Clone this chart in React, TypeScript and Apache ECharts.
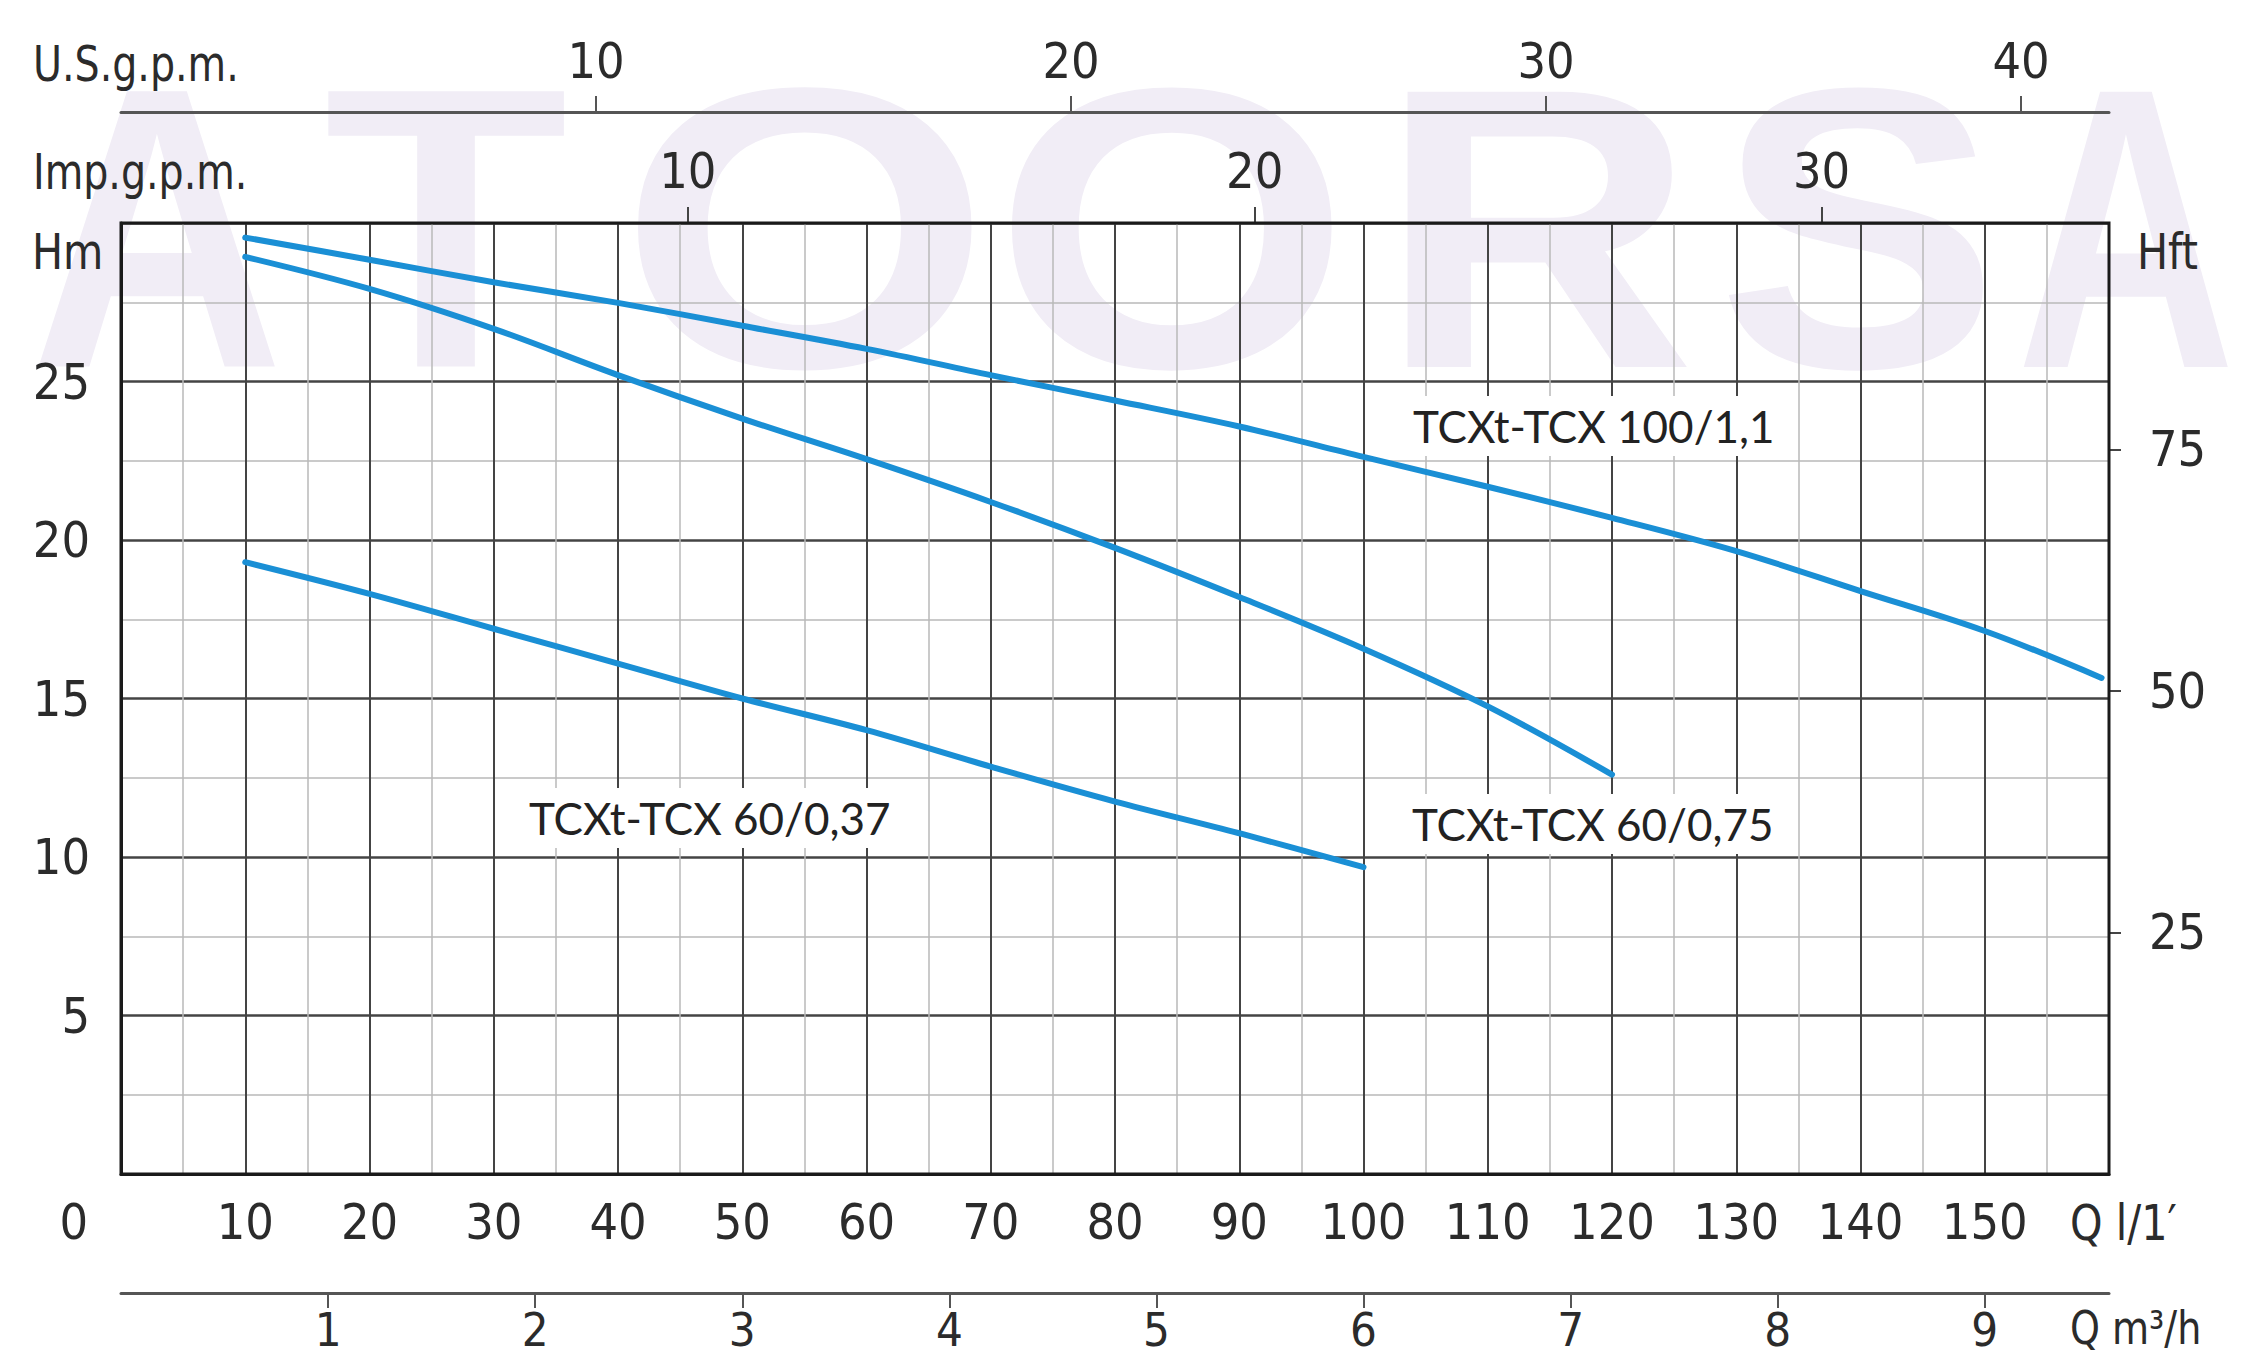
import React, { useEffect, useRef } from "react";
import * as echarts from "echarts";

// ---- data ----
const flow100 = [10, 20, 30, 40, 50, 60, 70, 80, 90, 100, 110, 120, 130, 140, 150, 159.4];
const head100 = [29.54, 28.84, 28.13, 27.48, 26.76, 26.03, 25.2, 24.4, 23.58, 22.62, 21.68, 20.7, 19.65, 18.39, 17.13, 15.65];

const flow075 = [10, 20, 30, 40, 50, 60, 70, 80, 90, 100, 110, 120];
const head075 = [28.93, 27.92, 26.66, 25.2, 23.83, 22.55, 21.2, 19.75, 18.2, 16.57, 14.75, 12.6];

const flow037 = [10, 20, 30, 40, 50, 60, 70, 80, 90, 100];
const head037 = [19.3, 18.3, 17.2, 16.1, 15.0, 14.0, 12.85, 11.75, 10.75, 9.68];

const seriesNames = ["TCXt-TCX 100/1,1", "TCXt-TCX 60/0,75", "TCXt-TCX 60/0,37"];

const m3hTicks = [1, 2, 3, 4, 5, 6, 7, 8, 9];
const usGpmTicks = [10, 20, 30, 40];
const impGpmTicks = [10, 20, 30];
const hftTicks = [25, 50, 75];

const FLOW_MAX = 160; // l/min
const HEAD_MAX = 30; // m
const M3H_MAX = 9.6;
const USGPM_MAX = 41.85;
const IMPGPM_MAX = 35.07;
const HFT_MAX = 98.43;

const watermarkLetters = ["A", "T", "O", "O", "R", "S", "A"];

// ---- styling ----
const W = 2244;
const H = 1360;
const G = { left: 121, right: 135, top: 223, bottom: 186 };
const TICK_FONT = "'Liberation Sans Narrow', 'DejaVu Sans Condensed', 'Liberation Sans', sans-serif";
const LABEL_FONT = "Lato, 'Open Sans', 'Noto Sans', sans-serif";
const TXT = "#2b2b2b";
const BLUE = "#1a8fd5";
const FS = 50;
const FS_BOTTOM = 47;

const wmPos = [157, 446, 805, 1172, 1537, 1858, 2126];
const wmScale = [0.88, 1.0, 1.2, 1.15, 1.1, 1.06, 0.76];

function pairs(xs: number[], ys: number[]) {
  return xs.map((x, i) => [x, ys[i]]);
}

function buildOption() {
  const tickLabel = { fontSize: FS, color: TXT, fontFamily: TICK_FONT };
  const plotW = W - G.left - G.right;
  const plotH = H - G.top - G.bottom;

  const graphics: any[] = [];
  watermarkLetters.forEach((ch, i) => {
    graphics.push({
      type: "text",
      x: wmPos[i],
      y: 228,
      scaleX: wmScale[i],
      z: -10,
      silent: true,
      style: {
        text: ch,
        x: 0,
        y: 0,
        textAlign: "center",
        textVerticalAlign: "middle",
        fill: "#f1edf6",
        font: "bold 400px 'Liberation Sans', sans-serif",
      },
    });
  });

  const plainText = (text: string, x: number, y: number, align = "left", sx = 1, fs = FS) => ({
    type: "text",
    x,
    y,
    scaleX: sx,
    z: 20,
    style: {
      text,
      x: 0,
      y: 0,
      textAlign: align,
      textVerticalAlign: "middle",
      fill: TXT,
      font: `${fs}px ${TICK_FONT}`,
    },
  });
  graphics.push(plainText("U.S.g.p.m.", 33, 63, "left", 0.88));
  graphics.push(plainText("Imp.g.p.m.", 33, 171, "left", 0.88));
  graphics.push(plainText("Hm", 32, 251, "left", 0.92));
  graphics.push(plainText("Hft", 2137, 251, "left", 0.92));
  graphics.push(plainText("0", 88, 1222, "right"));
  graphics.push(plainText("Q l/1\u2032", 2070, 1222, "left", 0.92));
  graphics.push(plainText("Q m\u00b3/h", 2070, 1328, "left", 0.9, FS_BOTTOM));

  const boxLabel = (text: string, x: number, y: number) => ({
    type: "text",
    x,
    y,
    z: 30,
    style: {
      text,
      x: 0,
      y: 0,
      textAlign: "left",
      textVerticalAlign: "middle",
      fill: "#222",
      font: `44px ${LABEL_FONT}`,
      backgroundColor: "#ffffff",
      padding: [8, 10, 8, 10],
    },
  });
  graphics.push(boxLabel(seriesNames[0], 1403, 426));
  graphics.push(boxLabel(seriesNames[1], 1402, 824));
  graphics.push(boxLabel(seriesNames[2], 519, 818));

  graphics.push({
    type: "rect",
    z: 100,
    silent: true,
    shape: { x: G.left, y: G.top, width: plotW, height: plotH },
    style: { fill: "none", stroke: "#1a1a1a", lineWidth: 3 },
  });

  return {
    animation: false,
    backgroundColor: "transparent",
    grid: { ...G, containLabel: false },
    xAxis: [
      {
        type: "value",
        min: 0,
        max: FLOW_MAX,
        interval: 10,
        position: "bottom",
        axisLine: { show: true, onZero: false, lineStyle: { color: "#1a1a1a", width: 3 } },
        axisTick: { show: false },
        axisLabel: {
          ...tickLabel,
          margin: 23,
          formatter: (v: number) => (v === 0 || v === FLOW_MAX ? "" : String(v)),
        },
        splitLine: { show: true, lineStyle: { color: "#444", width: 2 } },
        minorTick: { show: true, splitNumber: 2, length: 0, lineStyle: { width: 0 } },
        minorSplitLine: { show: true, lineStyle: { color: "#b8b8b8", width: 1.5 } },
      },
      {
        type: "value",
        min: 0,
        max: M3H_MAX,
        position: "bottom",
        offset: 119,
        axisLine: { show: true, onZero: false, lineStyle: { color: "#555", width: 3 } },
        axisTick: { show: true, length: 15, customValues: m3hTicks, lineStyle: { color: "#555", width: 2 } },
        axisLabel: { ...tickLabel, fontSize: FS_BOTTOM, margin: 13, customValues: m3hTicks },
        splitLine: { show: false },
      },
      {
        type: "value",
        min: 0,
        max: USGPM_MAX,
        position: "top",
        offset: 111,
        axisLine: { show: true, onZero: false, lineStyle: { color: "#555", width: 3 } },
        axisTick: { show: true, length: 16, customValues: usGpmTicks, lineStyle: { color: "#555", width: 2 } },
        axisLabel: { ...tickLabel, margin: 26, customValues: usGpmTicks },
        splitLine: { show: false },
      },
      {
        type: "value",
        min: 0,
        max: IMPGPM_MAX,
        position: "top",
        offset: 0,
        axisLine: { show: false, onZero: false },
        axisTick: { show: true, length: 16, customValues: impGpmTicks, lineStyle: { color: "#444", width: 2 } },
        axisLabel: { ...tickLabel, margin: 27, customValues: impGpmTicks },
        splitLine: { show: false },
      },
    ],
    yAxis: [
      {
        type: "value",
        min: 0,
        max: HEAD_MAX,
        interval: 5,
        position: "left",
        axisLine: { show: true, onZero: false, lineStyle: { color: "#1a1a1a", width: 3 } },
        axisTick: { show: false },
        axisLabel: {
          ...tickLabel,
          margin: 31,
          formatter: (v: number) => (v === 0 || v === HEAD_MAX ? "" : String(v)),
        },
        splitLine: { show: true, lineStyle: { color: "#444", width: 2.5 } },
        minorTick: { show: true, splitNumber: 2, length: 0, lineStyle: { width: 0 } },
        minorSplitLine: { show: true, lineStyle: { color: "#b8b8b8", width: 1.5 } },
      },
      {
        type: "value",
        min: 0,
        max: HFT_MAX,
        position: "right",
        axisLine: { show: false, onZero: false },
        axisTick: { show: true, length: 12, customValues: hftTicks, lineStyle: { color: "#444", width: 2 } },
        axisLabel: { ...tickLabel, margin: 40, customValues: hftTicks },
        splitLine: { show: false },
      },
    ],
    graphic: graphics,
    series: [
      { name: seriesNames[0], data: pairs(flow100, head100) },
      { name: seriesNames[1], data: pairs(flow075, head075) },
      { name: seriesNames[2], data: pairs(flow037, head037) },
    ].map((s) => ({
      ...s,
      type: "line",
      xAxisIndex: 0,
      yAxisIndex: 0,
      showSymbol: false,
      symbol: "none",
      smooth: 0.35,
      lineStyle: { color: BLUE, width: 6, cap: "round" },
      z: 5,
    })),
  };
}

export default function App() {
  const ref = useRef<HTMLDivElement>(null);
  useEffect(() => {
    if (!ref.current) return;
    const chart = echarts.init(ref.current, null, { renderer: "svg" });
    chart.setOption(buildOption() as any);
    return () => chart.dispose();
  }, []);
  return (
    <div
      ref={ref}
      style={{ position: "absolute", left: 0, top: 0, width: W, height: H, background: "#ffffff" }}
    />
  );
}
